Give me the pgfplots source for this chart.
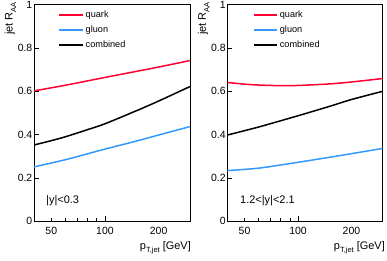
\documentclass[border=0pt]{standalone}
\usepackage{fontspec}
\setmainfont{Liberation Sans}
\usepackage{pgfplots}
\pgfplotsset{compat=1.18}
\definecolor{qred}{RGB}{255,0,51}
\definecolor{gblue}{RGB}{51,153,255}
\newcommand{\sub}[1]{\raisebox{-3.5bp}{\fontsize{7.5}{8}\selectfont #1}}
\begin{document}
\begin{tikzpicture}
\useasboundingbox (0,0) rectangle (387bp,261bp);
\begin{axis}[at={(34bp,39.8bp)}, anchor=south west,
  scale only axis, width=156bp, height=216.5bp,
  xmode=log, xmin=40, xmax=300, ymin=0, ymax=1,
  axis line style={line width=0.8bp},
  tick align=inside, tick pos=left,
  major tick length=5bp, minor tick length=3bp,
  tick style={line width=0.6bp, black},
  ytick={0,0.2,0.4,0.6,0.8,1}, yticklabels={0,0.2,0.4,0.6,0.8,1},
  xtick={100}, xticklabels={100},
  minor xtick={50,60,70,80,90},
  extra x ticks={50,200}, extra x tick labels={50,200},
  extra x tick style={major tick length=0pt},
  tick label style={font=\fontsize{10.5}{12}\selectfont},
  yticklabel style={inner sep=0pt, xshift=-1.5bp},
  xticklabel style={inner sep=0pt, yshift=-6bp},
  legend image code/.code={\draw[#1] (0bp,0bp) -- (23.5bp,0bp);},
  legend style={draw=none, fill=none, at={(0,1)}, anchor=north west, xshift=24.5bp, yshift=-4bp,
    font=\fontsize{9.2}{10}\selectfont, row sep=3bp, inner sep=0pt},
  legend cell align=left]
\addplot[qred, line width=1.5bp, no markers, smooth] coordinates {(40,0.602) (60,0.628) (100,0.664) (150,0.692) (200,0.712) (300,0.742)};
\addlegendentry{quark}
\addplot[gblue, line width=1.5bp, no markers, smooth] coordinates {(40,0.251) (60,0.284) (100,0.333) (150,0.370) (200,0.398) (300,0.437)};
\addlegendentry{gluon}
\addplot[black, line width=1.5bp, no markers, smooth] coordinates {(40,0.352) (50,0.372) (60,0.39) (80,0.423) (100,0.45) (150,0.51) (200,0.555) (300,0.622)};
\addlegendentry{combined}
\end{axis}
\begin{axis}[at={(227.3bp,39.8bp)}, anchor=south west,
  scale only axis, width=155.4bp, height=216.5bp,
  xmode=log, xmin=40, xmax=300, ymin=0, ymax=1,
  axis line style={line width=0.8bp},
  tick align=inside, tick pos=left,
  major tick length=5bp, minor tick length=3bp,
  tick style={line width=0.6bp, black},
  ytick={0,0.2,0.4,0.6,0.8,1}, yticklabels={0,0.2,0.4,0.6,0.8,1},
  xtick={100}, xticklabels={100},
  minor xtick={50,60,70,80,90},
  extra x ticks={50,200}, extra x tick labels={50,200},
  extra x tick style={major tick length=0pt},
  tick label style={font=\fontsize{10.5}{12}\selectfont},
  yticklabel style={inner sep=0pt, xshift=-1.5bp},
  xticklabel style={inner sep=0pt, yshift=-6bp},
  legend image code/.code={\draw[#1] (0bp,0bp) -- (23.5bp,0bp);},
  legend style={draw=none, fill=none, at={(0,1)}, anchor=north west, xshift=25.4bp, yshift=-4bp,
    font=\fontsize{9.2}{10}\selectfont, row sep=3bp, inner sep=0pt},
  legend cell align=left]
\addplot[qred, line width=1.5bp, no markers, smooth] coordinates {(40,0.641) (50,0.633) (60,0.629) (80,0.626) (100,0.627) (150,0.634) (200,0.643) (300,0.659)};
\addlegendentry{quark}
\addplot[gblue, line width=1.5bp, no markers, smooth] coordinates {(40,0.234) (60,0.245) (100,0.272) (150,0.295) (200,0.312) (300,0.336)};
\addlegendentry{gluon}
\addplot[black, line width=1.5bp, no markers, smooth] coordinates {(40,0.398) (60,0.435) (100,0.487) (150,0.530) (200,0.562) (300,0.600)};
\addlegendentry{combined}
\end{axis}
\node[rotate=90, anchor=base east, inner sep=0pt, font=\fontsize{11}{12}\selectfont] at (12.5bp,259bp) {jet R\sub{AA}};
\node[rotate=90, anchor=base east, inner sep=0pt, font=\fontsize{11}{12}\selectfont] at (205.8bp,259bp) {jet R\sub{AA}};
\node[anchor=base east, inner sep=0pt, font=\fontsize{11}{12}\selectfont] at (191bp,12bp) {p\sub{T,jet} [GeV]};
\node[anchor=base east, inner sep=0pt, font=\fontsize{11}{12}\selectfont] at (385bp,12bp) {p\sub{T,jet} [GeV]};
\node[anchor=base west, inner sep=0pt, font=\fontsize{11}{12}\selectfont] at (46bp,57bp) {|y|<0.3};
\node[anchor=base west, inner sep=0pt, font=\fontsize{11}{12}\selectfont] at (240bp,57.7bp) {1.2<|y|<2.1};
\end{tikzpicture}
\end{document}
